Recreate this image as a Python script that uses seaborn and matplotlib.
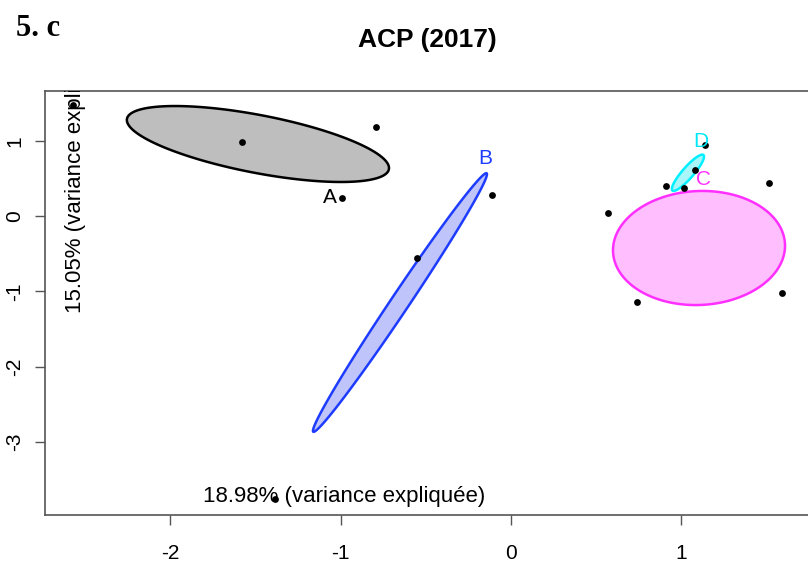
import numpy as np
import matplotlib
matplotlib.use("Agg")
import matplotlib.pyplot as plt
import seaborn as sns
import pandas as pd
from matplotlib.patches import Polygon

# ---- data ----
pc1 = [-2.570, -1.581, -0.793, -0.994, -0.113, -0.554, -1.386,
       0.571, 0.910, 1.016, 1.080, 1.139, 1.515, 1.590, 0.742]
pc2 = [1.474, 0.979, 1.178, 0.235, 0.279, -0.562, -3.758,
       0.036, 0.398, 0.372, 0.611, 0.943, 0.434, -1.027, -1.138]

groups = ["A", "B", "C", "D"]
ell_cx = [-1.486, -0.652, 1.104, 1.039]
ell_cy = [0.956, -1.149, -0.425, 0.574]
ell_ux = [0.769, 0.509, 0.505, 0.091]
ell_uy = [-0.335, 1.716, 0.030, 0.236]
ell_vx = [-0.032, 0.044, 0.000, 0.025]
ell_vy = [-0.377, -0.067, 0.757, -0.048]
label_x = [-1.063, -0.153, 1.133, 1.116]
label_y = [0.252, 0.757, 0.491, 0.996]

x_ticks = [-2, -1, 0, 1]
y_ticks = [1, 0, -1, -2, -3]
title = "ACP (2017)"
xlab = "18.98% (variance expliquée)"
ylab = "15.05% (variance expliquée)"
panel = "5. c"

edge_cols = ["#000000", "#1e3cff", "#ff30ff", "#00f0ff"]
fill_cols = ["#bebebe", "#bfc4fa", "#ffbfff", "#a8f6fa"]
text_cols = ["#000000", "#1e3cff", "#ff30ff", "#00e8f8"]

# ---- figure ----
sns.set_style("white")
plt.rcParams["font.family"] = ["Liberation Sans", "DejaVu Sans"]
plt.rcParams["text.color"] = "black"
plt.rcParams["xtick.labelcolor"] = "black"
plt.rcParams["ytick.labelcolor"] = "black"

fig = plt.figure(figsize=(8.08, 5.68), dpi=100)
ax = fig.add_axes([45 / 808, 1 - 515 / 568, (820 - 45) / 808, (515 - 91) / 568])

t = np.linspace(0, 2 * np.pi, 300)
for i in range(len(groups)):
    xs = ell_cx[i] + np.cos(t) * ell_ux[i] + np.sin(t) * ell_vx[i]
    ys = ell_cy[i] + np.cos(t) * ell_uy[i] + np.sin(t) * ell_vy[i]
    ax.add_patch(Polygon(np.column_stack([xs, ys]), closed=True,
                         facecolor=fill_cols[i], edgecolor=edge_cols[i],
                         lw=1.8, zorder=2))

df = pd.DataFrame({"pc1": pc1, "pc2": pc2})
sns.scatterplot(data=df, x="pc1", y="pc2", ax=ax, color="black", s=24,
                edgecolor="black", linewidth=0, zorder=4)

for i, g in enumerate(groups):
    ax.text(label_x[i], label_y[i], g, color=text_cols[i], fontsize=15,
            ha="center", va="center", zorder=5)

ax.text(-1.809, -3.73, xlab, fontsize=16, ha="left", va="center",
        color="black", zorder=3)
ax.text(-2.555, -1.288, ylab, fontsize=16, rotation=90, ha="center",
        va="bottom", clip_on=True, color="black", zorder=3)

ax.set_xlim((45 - 511) / 170.3, (820 - 511) / 170.3)
ax.set_ylim((216 - 515) / 75.3, (216 - 91) / 75.3)
ax.set_xticks(x_ticks)
ax.set_xticklabels([str(v) for v in x_ticks])
ax.set_yticks(y_ticks)
ax.set_yticklabels([str(v) for v in y_ticks], rotation=90, va="center")
ax.set_xlabel("")
ax.set_ylabel("")
ax.tick_params(axis="x", length=7, width=1, color="#555555", pad=14,
               labelsize=15, direction="out", bottom=True)
ax.tick_params(axis="y", length=7, width=1, color="#555555", pad=8,
               labelsize=15, direction="out", left=True)
for s in ax.spines.values():
    s.set_color("#555555")
    s.set_linewidth(1.2)
    s.set_visible(True)

fig.text(427 / 808, 1 - 40 / 568, title, fontsize=19, fontweight="bold",
         ha="center", va="center")
fig.text(16 / 808, 1 - 28 / 568, panel, fontsize=22, fontweight="bold",
         family="Liberation Serif", ha="left", va="center")

fig.savefig("out.png", dpi=100)
